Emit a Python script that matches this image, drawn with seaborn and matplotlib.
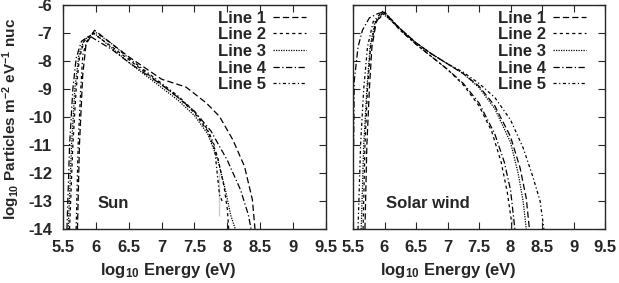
import matplotlib
matplotlib.use("Agg")
import matplotlib.pyplot as plt
import numpy as np
import pandas as pd
import seaborn as sns

# ── Data (log10 energy, log10 flux) ───────────────────────────────────────────

line_names = ["Line 1", "Line 2", "Line 3", "Line 4", "Line 5"]

sun_x = {
    "Line 1": [5.72, 5.75, 5.80, 5.85, 5.98, 6.25, 6.50, 6.75, 7.00, 7.37, 7.68, 7.88, 8.08, 8.26, 8.38, 8.42],
    "Line 2": [5.60, 5.65, 5.70, 5.75, 5.82, 5.95, 6.25, 6.50, 6.75, 7.00, 7.25, 7.50, 7.70, 7.85, 7.95, 8.00, 8.02],
    "Line 3": [5.58, 5.63, 5.68, 5.74, 5.82, 5.97, 6.25, 6.50, 6.75, 7.00, 7.25, 7.50, 7.70, 7.85, 7.97, 8.05, 8.12],
    "Line 4": [5.56, 5.60, 5.65, 5.70, 5.78, 5.90, 6.25, 6.50, 6.75, 7.00, 7.25, 7.50, 7.75, 8.00, 8.20, 8.32, 8.36],
    "Line 5": [5.70, 5.73, 5.77, 5.80, 5.86, 5.98, 6.25, 6.50, 6.75, 7.00, 7.25, 7.50, 7.70, 7.80, 7.88, 7.92, 7.88],
}
sun_y = {
    "Line 1": [-14.0, -11.0, -8.5, -7.4, -6.9, -7.4, -7.85, -8.25, -8.65, -8.93, -9.5, -9.98, -10.8, -11.76, -12.95, -14.0],
    "Line 2": [-14.0, -11.0, -9.0, -7.9, -7.3, -7.0, -7.5, -7.95, -8.4, -8.85, -9.3, -9.85, -10.5, -11.4, -12.5, -13.3, -14.0],
    "Line 3": [-14.0, -11.0, -9.0, -7.8, -7.25, -7.0, -7.55, -8.05, -8.5, -8.95, -9.4, -9.95, -10.6, -11.5, -12.6, -13.5, -14.0],
    "Line 4": [-14.0, -11.0, -9.0, -7.9, -7.3, -7.1, -7.6, -8.05, -8.45, -8.85, -9.3, -9.8, -10.5, -11.55, -12.6, -13.5, -14.0],
    "Line 5": [-14.0, -11.0, -9.0, -7.8, -7.3, -6.95, -7.4, -7.9, -8.35, -8.8, -9.25, -9.8, -10.45, -11.0, -12.0, -13.0, -13.55],
}

wind_x = {
    "Line 1": [5.69, 5.72, 5.76, 5.80, 5.87, 5.98, 6.25, 6.50, 6.75, 7.00, 7.25, 7.50, 7.75, 8.00, 8.15, 8.25, 8.30],
    "Line 2": [5.66, 5.69, 5.73, 5.78, 5.86, 6.00, 6.25, 6.50, 6.75, 7.00, 7.25, 7.50, 7.70, 7.85, 7.95, 8.02, 8.02],
    "Line 3": [5.63, 5.67, 5.72, 5.77, 5.85, 5.97, 6.25, 6.50, 6.75, 7.00, 7.25, 7.50, 7.75, 8.00, 8.12, 8.20, 8.25],
    "Line 4": [5.51, 5.52, 5.58, 5.65, 5.76, 5.90, 6.00, 6.25, 6.50, 6.75, 7.00, 7.25, 7.50, 7.75, 7.90, 8.00, 8.07],
    "Line 5": [5.58, 5.62, 5.67, 5.73, 5.82, 5.98, 6.25, 6.50, 6.75, 7.00, 7.25, 7.50, 7.75, 8.00, 8.20, 8.35, 8.47, 8.53],
}
wind_y = {
    "Line 1": [-14.0, -11.0, -9.0, -7.5, -6.6, -6.25, -6.85, -7.35, -7.75, -8.1, -8.45, -8.9, -9.6, -10.7, -11.8, -12.9, -14.0],
    "Line 2": [-14.0, -11.0, -9.0, -7.5, -6.6, -6.3, -6.9, -7.4, -7.85, -8.3, -8.85, -9.6, -10.5, -11.6, -12.7, -13.6, -14.0],
    "Line 3": [-14.0, -11.0, -9.0, -7.5, -6.6, -6.3, -6.85, -7.35, -7.75, -8.1, -8.45, -8.95, -9.7, -10.9, -12.0, -13.0, -14.0],
    "Line 4": [-11.0, -8.7, -7.5, -6.9, -6.46, -6.3, -6.25, -6.9, -7.4, -7.85, -8.3, -8.8, -9.5, -10.6, -11.6, -12.6, -14.0],
    "Line 5": [-14.0, -11.0, -9.0, -7.5, -6.6, -6.2, -6.85, -7.35, -7.75, -8.1, -8.4, -8.8, -9.3, -10.1, -11.1, -12.1, -13.0, -14.0],
}

x_ticks = [5.5, 6, 6.5, 7, 7.5, 8, 8.5, 9, 9.5]
x_tick_labels = ["5.5", "6", "6.5", "7", "7.5", "8", "8.5", "9", "9.5"]
y_ticks = [-6, -7, -8, -9, -10, -11, -12, -13, -14]

# gnuplot-like dash patterns
line_dashes = {
    "Line 1": (0, (5, 2.5)),
    "Line 2": (0, (2.5, 2.5)),
    "Line 3": (0, (1, 1)),
    "Line 4": (0, (5, 2, 1, 2)),
    "Line 5": (0, (2.5, 2, 1, 2)),
}


def draw_panel(ax, xs, ys, label, show_ylabels, xlabel_x):
    for name in line_names:
        df = pd.DataFrame({"x": xs[name], "y": ys[name]})
        sns.lineplot(data=df, x="x", y="y", ax=ax, sort=False, color="black",
                     linewidth=0.9, linestyle=line_dashes[name], label=name)
    ax.set_xlim(5.5, 9.5)
    ax.set_ylim(-14, -6)
    ax.set_xticks(x_ticks)
    ax.set_xticklabels(x_tick_labels)
    ax.set_yticks(y_ticks)
    if show_ylabels:
        ax.set_yticklabels([str(t) for t in y_ticks])
        ax.set_ylabel(r"log$_{10}$ Particles m$^{-2}$ eV$^{-1}$ nuc",
                      fontsize=11, fontweight="bold")
        ax.yaxis.set_label_coords(-0.155, 0.49)
    else:
        ax.set_yticklabels([])
        ax.set_ylabel("")
    ax.set_xlabel(r"log$_{10}$ Energy (eV)", fontsize=12, fontweight="bold")
    # gnuplot centres the enhanced-text label a bit to the left
    ax.xaxis.set_label_coords(xlabel_x, -0.145)
    ax.tick_params(direction="in", length=5, width=0.8, top=True, right=True,
                   labelsize=12, pad=8)
    for t in ax.get_xticklabels() + ax.get_yticklabels():
        t.set_fontweight("bold")
    for s in ax.spines.values():
        s.set_linewidth(1.0)
        s.set_visible(True)
    ax.text(6.02, -13.1, label, fontsize=12, fontweight="bold", va="center", ha="left")
    leg = ax.legend(loc="upper right", bbox_to_anchor=(0.925, 0.975), frameon=False,
                    markerfirst=False, handlelength=2.0, handletextpad=0.4,
                    labelspacing=0.1, borderpad=0, borderaxespad=0,
                    prop={"size": 12, "weight": "bold"})
    for h in leg.get_lines():
        h.set_linewidth(0.9)


sns.set_style("ticks")
plt.rcParams["font.family"] = ["Liberation Sans", "DejaVu Sans"]
plt.rcParams["mathtext.fontset"] = "custom"
plt.rcParams["mathtext.rm"] = "Liberation Sans:bold"
plt.rcParams["mathtext.it"] = "Liberation Sans:bold"
plt.rcParams["mathtext.bf"] = "Liberation Sans:bold"

fig = plt.figure(figsize=(6.19, 2.83), dpi=100)
ax_sun = fig.add_axes([63 / 619, 1 - 229 / 283, 263 / 619, 224 / 283])
ax_wind = fig.add_axes([353 / 619, 1 - 229 / 283, 252 / 619, 224 / 283])

draw_panel(ax_sun, sun_x, sun_y, "Sun", True, 0.40)
draw_panel(ax_wind, wind_x, wind_y, "Solar wind", False, 0.38)

fig.savefig("out.png", dpi=100)
